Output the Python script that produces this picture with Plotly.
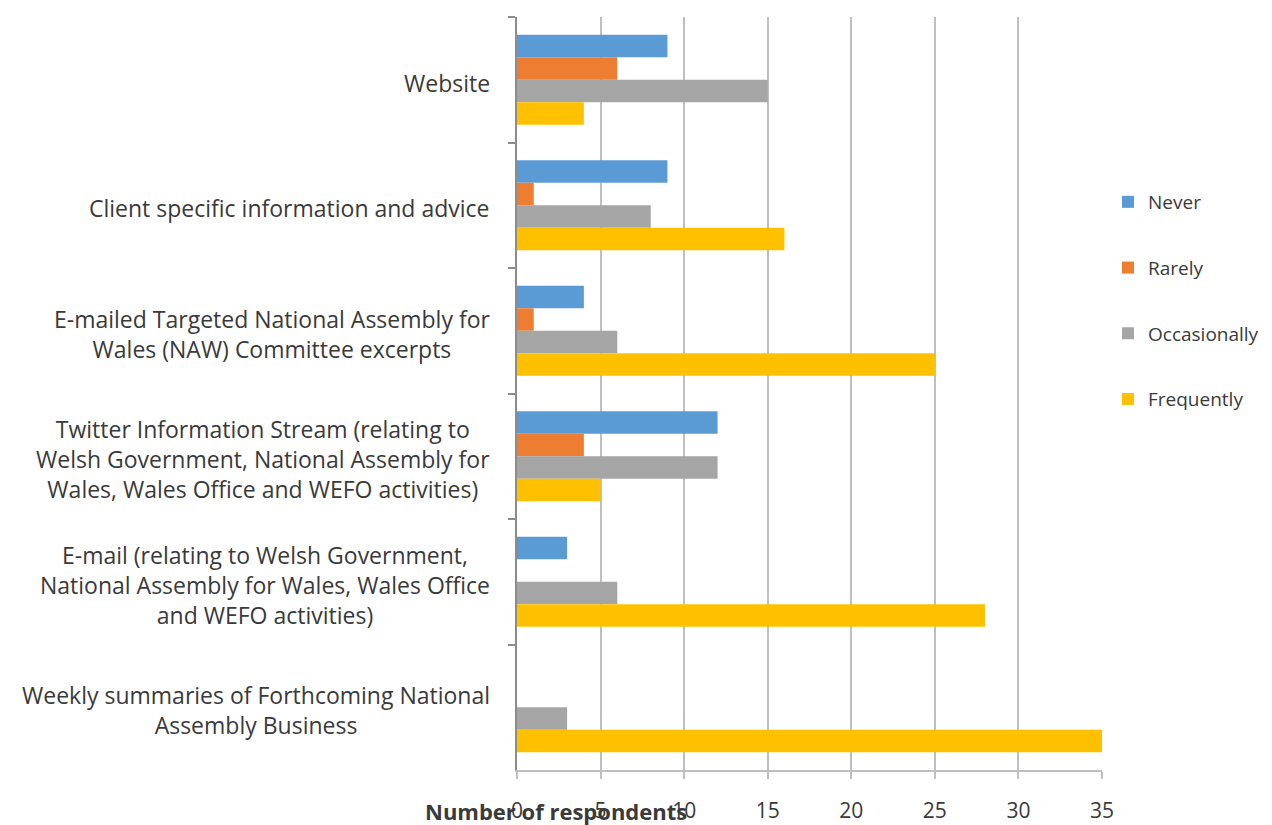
import plotly.graph_objects as go

categories = [
    "Website",
    "Client specific information and advice",
    "E-mailed Targeted National Assembly for<br>Wales (NAW) Committee excerpts",
    "Twitter Information Stream (relating to<br>Welsh Government, National Assembly for<br>Wales, Wales Office and WEFO activities)",
    "E-mail (relating to Welsh Government,<br>National Assembly for Wales, Wales Office<br>and WEFO activities)",
    "Weekly summaries of Forthcoming National<br>Assembly Business",
]
cat_ids = ["c%d" % i for i in range(len(categories))]

never = [9, 9, 4, 12, 3, 0]
rarely = [6, 1, 1, 4, 0, 0]
occasionally = [15, 8, 6, 12, 6, 3]
frequently = [4, 16, 25, 5, 28, 35]

series = [
    ("Never", never, "#5B9BD5"),
    ("Rarely", rarely, "#ED7D31"),
    ("Occasionally", occasionally, "#A5A5A5"),
    ("Frequently", frequently, "#FFC000"),
]

x_ticks = [0, 5, 10, 15, 20, 25, 30, 35]

FONT = "Open Sans"
TXT = "#3A3A3A"

# page body adds an 8px offset; size the figure so it fits the window
W, H = 1264, 817

fig = go.Figure()
for name, vals, col in series:
    fig.add_trace(go.Bar(
        y=cat_ids, x=vals, name=name, orientation="h",
        marker=dict(color=col, line=dict(width=0)),
        legendgroup=name,
    ))

annotations = []
for cid, lab in zip(cat_ids, categories):
    annotations.append(dict(
        x=0, xref="paper", y=cid, yref="y", text=lab, showarrow=False,
        xanchor="right", yanchor="middle", align="center", xshift=-25, yshift=-3,
        font=dict(family=FONT, size=23, color=TXT),
    ))
annotations.append(dict(
    x=0, xref="paper", y=0, yref="paper", text="<b>Number of respondents</b>",
    showarrow=False, xanchor="center", yanchor="middle", xshift=39, yshift=-41,
    font=dict(family=FONT, size=22, color=TXT),
))

fig.update_layout(
    width=W, height=H,
    margin=dict(l=509, r=170, t=9, b=55, autoexpand=False),
    paper_bgcolor="white", plot_bgcolor="white",
    barmode="group", bargap=0.283, bargroupgap=0,
    font=dict(family=FONT, size=20, color=TXT),
    showlegend=True,
    legend=dict(
        xref="container", x=1100 / W, xanchor="left",
        yref="container", y=1 - 175 / H, yanchor="top",
        font=dict(family=FONT, size=19, color=TXT),
        tracegroupgap=38, traceorder="grouped",
        itemwidth=30,
    ),
    annotations=annotations,
    xaxis=dict(
        range=[0, 35], tickvals=x_ticks, ticktext=[str(v) for v in x_ticks],
        showgrid=True, gridcolor="#BFBFBF", gridwidth=1.5,
        showline=True, linecolor="#BFBFBF", linewidth=1.5,
        ticks="outside", ticklen=7, tickcolor="#BFBFBF", tickwidth=1.5,
        ticklabelstandoff=14,
        tickfont=dict(family=FONT, size=21, color=TXT),
        zeroline=False, fixedrange=True,
    ),
    yaxis=dict(
        categoryorder="array", categoryarray=cat_ids, autorange="reversed",
        showticklabels=False, showgrid=False,
        showline=True, linecolor="#8C8C8C", linewidth=1.5,
        ticks="outside", ticklen=7, tickcolor="#8C8C8C", tickwidth=1.5,
        tickson="boundaries", zeroline=False,
    ),
)

fig.write_html("out.html")
